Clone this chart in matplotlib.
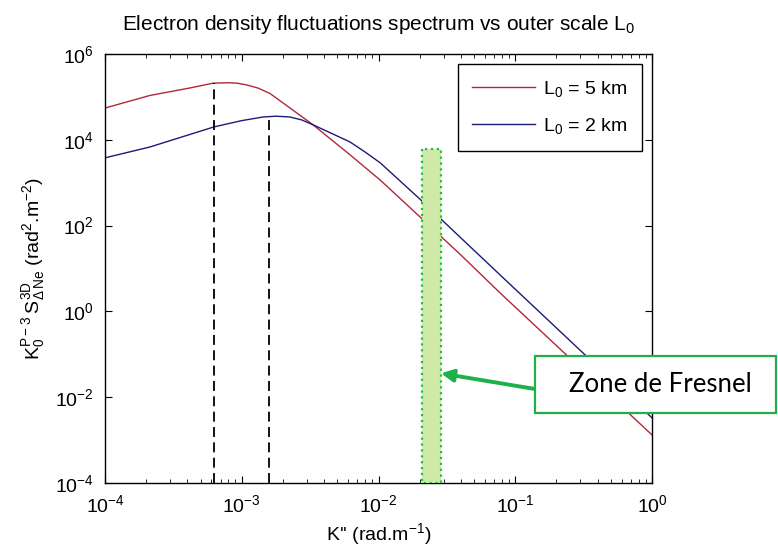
"""Electron density fluctuation spectrum vs outer scale L0 (log-log)."""

import matplotlib

matplotlib.use("Agg")
import matplotlib.pyplot as plt
from matplotlib.patches import Rectangle
from matplotlib.ticker import LogLocator, NullFormatter

plt.rcParams["font.family"] = ["Liberation Sans", "DejaVu Sans"]
plt.rcParams["mathtext.default"] = "regular"

# ── Data ──────────────────────────────────────────────────────────────────
k_red = [1e-4, 2.13e-4, 4.20e-4, 6.17e-4, 7.94e-4, 9.23e-4, 1.09e-3,
         1.32e-3, 1.61e-3, 2.37e-3, 3.32e-3, 6.19e-3, 1.03e-2, 2.0e-2,
         3.98e-2, 7.74e-2, 1.0]
s_red = [5.5e4, 1.08e5, 1.62e5, 2.09e5, 2.14e5, 2.09e5, 1.9e5,
         1.6e5, 1.2e5, 4.9e4, 2.24e4, 4.47e3, 1.15e3, 1.62e2,
         2.1e1, 2.7e0, 1.32e-3]

k_blue = [1e-4, 2.13e-4, 6.27e-4, 1.0e-3, 1.43e-3, 1.78e-3, 2.25e-3,
          2.75e-3, 3.32e-3, 6.19e-3, 7.94e-3, 1.03e-2, 2.0e-2, 3.98e-2,
          7.74e-2, 1.0]
s_blue = [3.8e3, 6.8e3, 2.0e4, 2.8e4, 3.4e4, 3.55e4, 3.4e4,
          2.9e4, 2.24e4, 8.9e3, 5.25e3, 2.9e3, 4.2e2, 5.25e1,
          7.1e0, 3.3e-3]

labels = ["$L_0$ = 5 km", "$L_0$ = 2 km"]
colors = ["#b0283a", "#1c1c78"]

# dashed markers at k = pi / L0, drawn up to each curve's value there
k_mark = [6.28e-4, 1.57e-3]
s_mark = [2.09e5, 3.4e4]

# Fresnel zone band
fresnel_k = [2.08e-2, 2.86e-2]
fresnel_top = 6.1e3
arrow_tip = (2.86e-2, 3.6e-2)

# ── Figure ────────────────────────────────────────────────────────────────
W, H = 778, 555
fig = plt.figure(figsize=(W / 100, H / 100), dpi=100)
ax = fig.add_axes([105 / W, 1 - 483 / H, (652 - 105) / W, (483 - 54) / H])

ax.loglog(k_red, s_red, color=colors[0], linewidth=1.0, label=labels[0])
ax.loglog(k_blue, s_blue, color=colors[1], linewidth=1.0, label=labels[1])

for k, s in zip(k_mark, s_mark):
    ax.plot([k, k], [1e-4, s], color="black", linestyle=(0, (5.5, 3)),
            linewidth=1.3)

ax.fill_between(fresnel_k, 1e-4, fresnel_top, facecolor="#cfeaa8",
                edgecolor="#1fbf3f", linestyle=":", linewidth=1.6, zorder=3)

ax.set_xlim(1e-4, 1)
ax.set_ylim(1e-4, 1e6)
ax.xaxis.set_major_locator(LogLocator(base=10, numticks=10))
ax.xaxis.set_minor_locator(LogLocator(base=10, subs=range(2, 10), numticks=20))
ax.xaxis.set_minor_formatter(NullFormatter())
ax.set_yticks([1e-4, 1e-2, 1e0, 1e2, 1e4, 1e6])
ax.yaxis.set_minor_locator(plt.NullLocator())
ax.tick_params(which="both", direction="in", top=True, right=True,
               labelsize=14)
ax.tick_params(axis="x", pad=8)
ax.tick_params(axis="y", pad=8)
ax.tick_params(which="major", length=5)
ax.tick_params(which="minor", length=3)
for sp in ax.spines.values():
    sp.set_linewidth(1.0)

ax.set_title("Electron density fluctuations spectrum vs outer scale $L_0$",
             fontsize=15, pad=17)
ax.set_xlabel("K'' (rad.m$^{-1}$)", fontsize=14, labelpad=4)
ax.set_ylabel(r"$K_0^{P-3}\,S_{\Delta\,Ne}^{3D}$ (rad$^2$.m$^{-2}$)",
              fontsize=14, labelpad=6)

leg = ax.legend(loc="upper right", bbox_to_anchor=(642 / W, 1 - 64 / H),
                bbox_transform=fig.transFigure, fontsize=14, fancybox=False,
                framealpha=1, edgecolor="black", handlelength=3.25,
                handletextpad=0.4, labelspacing=0.9, borderpad=0.75,
                borderaxespad=0)
leg.get_frame().set_linewidth(1.0)

# ── "Zone de Fresnel" callout ─────────────────────────────────────────────
box_l, box_r, box_t, box_b = 535, 776, 356, 413
fig.patches.append(Rectangle((box_l / W, 1 - box_b / H),
                             (box_r - box_l) / W, (box_b - box_t) / H,
                             transform=fig.transFigure, facecolor="white",
                             edgecolor="#1fb04a", linewidth=1.6, zorder=5))
fig.text(660 / W, 1 - 384 / H, "Zone de Fresnel", ha="center", va="center",
         fontsize=18.5, family=["Lato", "DejaVu Sans"], zorder=6)
ax.annotate("", xy=arrow_tip, xycoords="data",
            xytext=(box_l / W, 1 - 389 / H), textcoords="figure fraction",
            arrowprops=dict(arrowstyle="-|>", color="#1fb04a", lw=2.8,
                            mutation_scale=18, shrinkA=0, shrinkB=0),
            zorder=6)

fig.savefig("out.png", dpi=100, facecolor="white")
